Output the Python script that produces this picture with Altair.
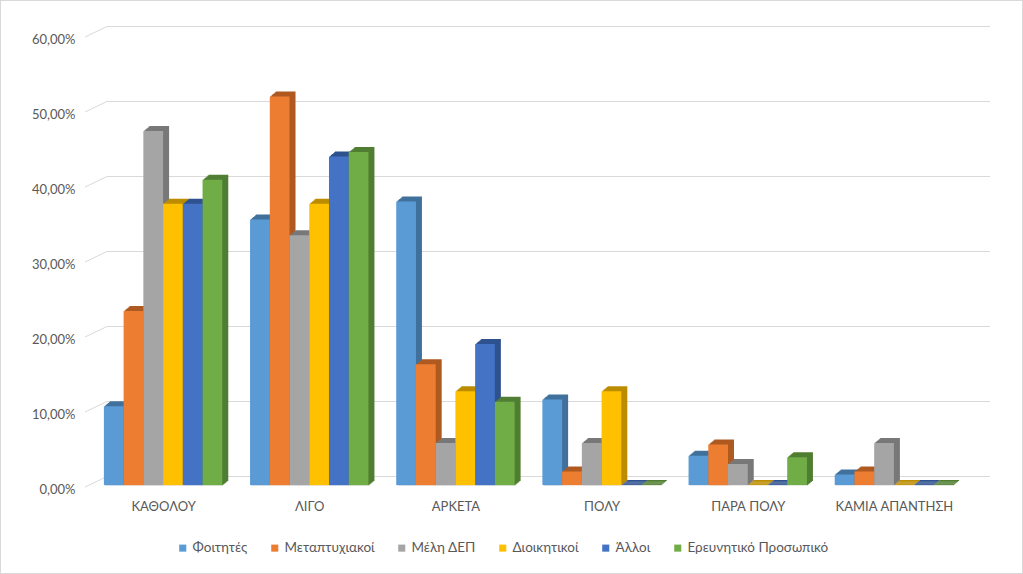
import altair as alt
import pandas as pd

categories = ["ΚΑΘΟΛΟΥ", "ΛΙΓΟ", "ΑΡΚΕΤΑ", "ΠΟΛΥ", "ΠΑΡΑ ΠΟΛΥ", "ΚΑΜΙΑ ΑΠΑΝΤΗΣΗ"]
series = ["Φοιτητές", "Μεταπτυχιακοί", "Μέλη ΔΕΠ", "Διοικητικοί", "Άλλοι", "Ερευνητικό Προσωπικό"]
foitites = [10.5, 35.4, 37.8, 11.4, 3.9, 1.4]
metaptyxiakoi = [23.2, 51.8, 16.1, 1.8, 5.4, 1.8]
meli_dep = [47.2, 33.3, 5.6, 5.6, 2.8, 5.6]
dioikitikoi = [37.5, 37.5, 12.5, 12.5, 0.0, 0.0]
alloi = [37.5, 43.8, 18.8, 0.0, 0.0, 0.0]
erevnitiko = [40.7, 44.4, 11.1, 0.0, 3.7, 0.0]
y_ticks = [0, 0.1, 0.2, 0.3, 0.4, 0.5, 0.6]

front_colors = ["#5B9BD5", "#ED7D31", "#A5A5A5", "#FFC000", "#4472C4", "#70AD47"]
side_colors = ["#41719C", "#AE5A21", "#787878", "#BC8C00", "#2F528F", "#507E32"]

all_values = [foitites, metaptyxiakoi, meli_dep, dioikitikoi, alloi, erevnitiko]
rows = []
for si, (s, vals) in enumerate(zip(series, all_values)):
    for ci, (c, v) in enumerate(zip(categories, vals)):
        rows.append({"category": c, "ci": ci, "series": s, "si": si, "value": v / 100.0})
df = pd.DataFrame(rows)
grid_df = pd.DataFrame({"v": y_ticks})

W, H = 877, 450
FONT = "Lato"
TXT = "#595959"
BW = 0.81 / 6  # bar width in category units

yscale = alt.Scale(domain=[0, 0.6], nice=False)
xscale = alt.Scale(domain=[-0.5, 5.5], nice=False, zero=False)

cat_js = "[" + ",".join("'" + c + "'" for c in categories) + "]"
x_axis = alt.Axis(title=None, values=list(range(len(categories))), labelAngle=0, domain=False,
                  ticks=False, grid=False, labelPadding=15, labelFont=FONT, labelFontSize=13,
                  labelColor=TXT, labelExpr=cat_js + "[datum.value]")
y_axis = alt.Axis(title=None, values=y_ticks, domain=False, ticks=False, grid=False,
                  labelPadding=15, labelOffset=4, labelFont=FONT, labelFontSize=13, labelColor=TXT,
                  labelExpr="replace(format(datum.value, '.2%'), '.', ',')")

base = alt.Chart(df).transform_calculate(
    x0=f"datum.ci + (datum.si - 3) * {BW}",
    x1=f"datum.ci + (datum.si - 2) * {BW}",
)

# back-wall gridlines
grid = alt.Chart(grid_df).mark_rule(color="#D9D9D9", strokeWidth=1, yOffset=-8.5).encode(
    y=alt.Y("v:Q", scale=yscale, axis=y_axis),
    x=alt.value(17), x2=alt.value(900),
)
diag = alt.Chart(grid_df).mark_rule(color="#D9D9D9", strokeWidth=1, yOffset=2, y2Offset=-8.5).encode(
    y=alt.Y("v:Q", scale=yscale, axis=y_axis),
    y2="v:Q",
    x=alt.value(-5), x2=alt.value(17),
)

def bar_enc(colors, legend):
    return dict(
        x=alt.X("x0:Q", scale=xscale, axis=x_axis),
        x2="x1:Q",
        y=alt.Y("value:Q", scale=yscale, axis=y_axis),
        y2=alt.datum(0),
        color=alt.Color("series:N", sort=series,
                        scale=alt.Scale(domain=series, range=colors), legend=legend),
    )

# 3D depth copies
depth_layers = []
N = 6
for k in range(N, 0, -1):
    dx = k
    dy = k * 5.0 / N
    depth_layers.append(
        base.mark_bar(xOffset=dx, x2Offset=dx, yOffset=-dy, y2Offset=-dy + 1).encode(
            **bar_enc(side_colors, None)
        )
    )

legend = alt.Legend(title=None, orient="none", direction="horizontal",
                    legendX=86, legendY=506, symbolType="square",
                    symbolSize=50, symbolStrokeWidth=0,
                    labelFont=FONT, labelFontSize=13.5, labelColor=TXT,
                    labelOffset=3, columnPadding=20)
front = base.mark_bar().encode(**bar_enc(front_colors, legend))

border = alt.Chart(grid_df).mark_rect(filled=False, stroke="#D9D9D9", strokeWidth=1).encode(
    x=alt.value(-89.5), x2=alt.value(W + 55.5), y=alt.value(-34.5), y2=alt.value(H + 88.5)
)

chart = alt.layer(border, grid, diag, *depth_layers, front).resolve_scale(
    color="independent"
).properties(
    width=W, height=H,
    padding={"left": 90, "top": 35, "right": 56, "bottom": 89},
    autosize=alt.AutoSizeParams(type="none"),
    background="white",
).configure_view(stroke=None)

chart.save("out.html", embed_options={"renderer": "svg", "actions": False})
